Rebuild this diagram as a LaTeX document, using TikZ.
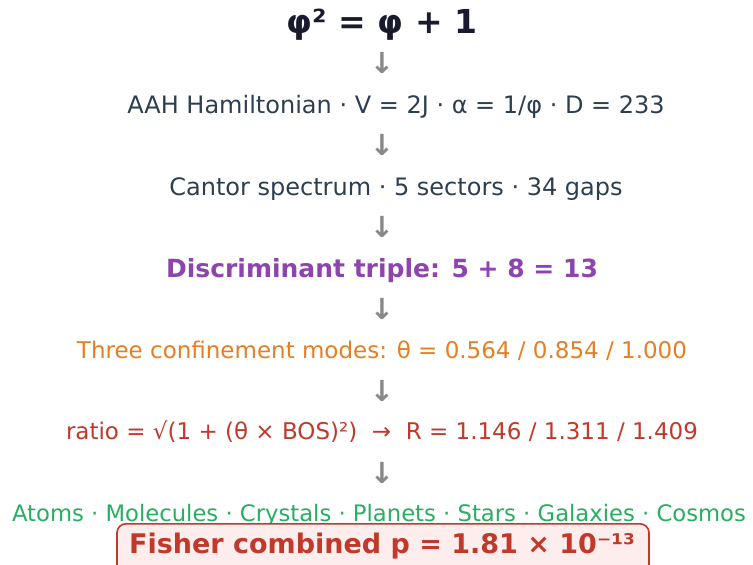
\documentclass[tikz,border=0pt]{standalone}
\usepackage{fontspec}
\setmainfont{DejaVu Sans}
\definecolor{navy}{HTML}{1A1A2E}
\definecolor{slate}{HTML}{2C3E50}
\definecolor{purp}{HTML}{8E44AD}
\definecolor{orng}{HTML}{E67E22}
\definecolor{redd}{HTML}{C0392B}
\definecolor{grn}{HTML}{27AE60}
\definecolor{arrgray}{HTML}{888888}
\definecolor{pinkfill}{HTML}{FDEDEC}
\begin{document}
\begin{tikzpicture}[x=1pt,y=-1pt,
  lbl/.style={inner sep=0pt, anchor=base},
  big/.style={font=\fontsize{24}{28}\selectfont},
  mid/.style={font=\fontsize{23}{27}\selectfont},
  arr/.style={inner sep=0pt, anchor=center, text=arrgray, font=\fontsize{29}{32}\selectfont\bfseries}]
\useasboundingbox (0,0) rectangle (753,565);
\node[lbl, text=navy, font=\fontsize{33}{36}\selectfont\bfseries] (t) at (382,33) {φ² = φ + 1};
\node[arr] (a1) at (382,63) {↓};
\node[lbl, big, text=slate] (l2) at (396,113) {AAH Hamiltonian · V = 2J · α = 1/φ · D = 233};
\node[arr] (a2) at (382,145) {↓};
\node[lbl, big, text=slate] (l3) at (396,195) {Cantor spectrum · 5 sectors · 34 gaps};
\node[arr] (a3) at (382,227) {↓};
\node[lbl, text=purp, font=\fontsize{25}{28}\selectfont\bfseries] (l4) at (382,277) {Discriminant triple: 5 + 8 = 13};
\node[arr] (a4) at (382,309) {↓};
\node[lbl, mid, text=orng] (l5) at (382,358) {Three confinement modes: θ = 0.564 / 0.854 / 1.000};
\node[arr] (a5) at (382,391) {↓};
\node[lbl, mid, text=redd] (l6) at (382,439) {ratio = √(1 + (θ × BOS)²)\ \ →\ \ R = 1.146 / 1.311 / 1.409};
\node[arr] (a6) at (382,473) {↓};
\node[lbl, text=grn, font=\fontsize{22.7}{26}\selectfont] (l7) at (379,521) {Atoms · Molecules · Crystals · Planets · Stars · Galaxies · Cosmos};
\node[draw=redd, line width=1.6pt, fill=pinkfill, rounded corners=9pt,
  minimum width=532pt, minimum height=50pt, inner sep=0pt, anchor=north] (f) at (383,523) {};
\node[lbl, text=redd, font=\fontsize{27}{30}\selectfont\bfseries] (ft) at (382,553) {Fisher combined p = 1.81 × 10⁻¹³};
\end{tikzpicture}
\end{document}
